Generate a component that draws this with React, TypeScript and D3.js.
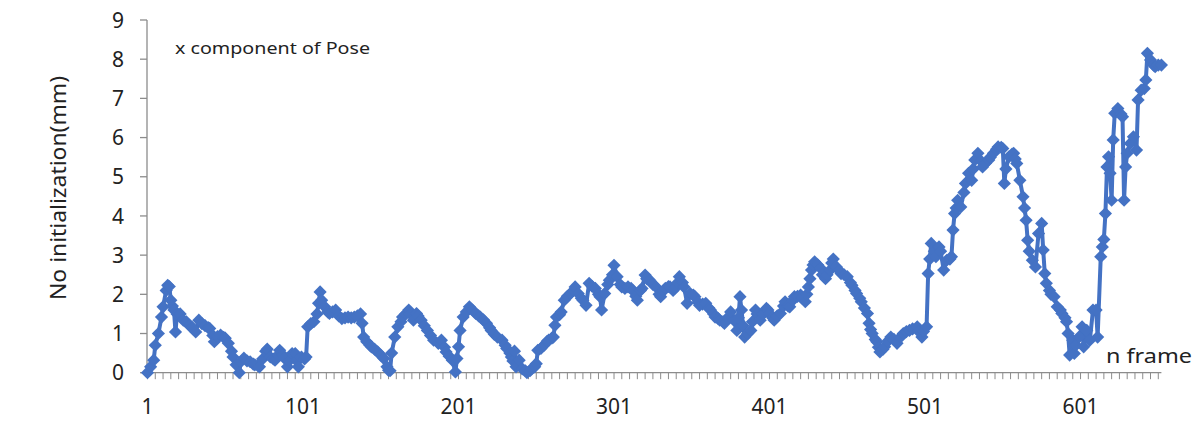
import React from "react";
import * as d3 from "d3";

const frames = [
  1, 3, 5, 6, 8, 10, 11, 13, 14, 15, 16, 17, 18, 19, 20, 22, 24, 26, 28, 30, 32, 34, 36, 38, 40, 41, 43, 44, 46, 48, 50, 51, 53, 55, 56, 58, 60, 61, 63, 65, 67, 69, 70, 72, 73, 75, 77,
  78, 80, 82, 83, 85, 86, 88, 89, 91, 92, 94, 96, 97, 98, 100, 102, 103, 104, 106, 108, 110, 111, 112, 113, 115, 117, 118, 120, 122, 124, 126, 128, 130, 132, 134, 136, 138, 139, 140, 142, 144, 145, 147, 149, 151, 153, 155, 156, 157,
  158, 160, 162, 164, 165, 167, 169, 170, 172, 174, 175, 177, 179, 181, 183, 185, 188, 190, 192, 193, 195, 197, 199, 200, 201, 202, 204, 206, 208, 210, 212, 214, 215, 217, 219, 221, 222, 224, 226, 229, 231, 232, 234, 235, 236, 237, 238,
  240, 242, 244, 245, 247, 248, 250, 251, 252, 254, 256, 258, 259, 261, 262, 263, 264, 266, 267, 269, 271, 273, 275, 276, 278, 280, 281, 283, 285, 287, 289, 291, 292, 293, 295, 297, 298, 300, 301, 303, 305, 306, 308, 310, 312, 313, 315, 316, 318,
  319, 321, 322, 324, 326, 328, 330, 331, 333, 334, 336, 337, 339, 340, 342, 343, 345, 346, 348, 350, 352, 353, 355, 356, 358, 360, 362, 363, 365, 366, 368, 369, 371, 372, 374, 376, 378, 380, 381, 382, 383, 384, 385, 387, 389, 390, 392, 393, 395, 397,
  399, 400, 401, 403, 404, 406, 408, 410, 411, 413, 414, 416, 417, 419, 421, 422, 424, 425, 426, 427, 428, 429, 430, 432, 434, 435, 437, 438, 440, 441, 442, 444, 446, 447, 449, 451, 453, 454, 456, 457, 459, 460, 462, 464, 465, 466, 467, 469, 470, 471, 472, 474, 475, 477,
  479, 481, 483, 485, 487, 489, 491, 493, 496, 497, 499, 500, 502, 503, 504, 505, 507, 508, 510, 511, 513, 515, 517, 518, 519, 520, 521, 522, 524, 526, 527, 529, 531, 532, 533, 535, 537, 538, 540, 542, 543, 545, 547, 548, 550, 551, 552, 553, 555, 557, 558, 559, 560, 562, 564,
  565, 566, 567, 568, 570, 572, 574, 576, 577, 578, 579, 581, 582, 584, 586, 588, 589, 591, 592, 593, 594, 596, 597, 598, 600, 602, 603, 605, 607, 609, 611, 612, 614, 615, 616, 617, 618, 619, 620, 621, 622, 623, 625, 627, 628, 629, 630, 631, 633, 635, 637, 638, 640, 642, 643, 644, 646, 648, 649, 651, 653,
];

const xPose = [
  0.0, 0.15, 0.32, 0.7, 1.0, 1.42, 1.68, 2.1, 2.23, 2.2, 1.85, 1.7, 1.6, 1.04, 1.5, 1.5, 1.34, 1.3, 1.2, 1.15, 1.04, 1.34, 1.25, 1.2, 1.15, 1.13, 0.95, 0.79, 0.92, 0.96, 0.9, 0.88, 0.75, 0.55, 0.4, 0.2, 0.0, 0.28, 0.37, 0.3, 0.28, 0.22, 0.2, 0.18, 0.15, 0.35, 0.55,
  0.6, 0.4, 0.35, 0.32, 0.45, 0.57, 0.45, 0.37, 0.15, 0.3, 0.49, 0.49, 0.3, 0.15, 0.4, 0.35, 0.4, 1.17, 1.25, 1.3, 1.5, 1.77, 2.06, 1.85, 1.68, 1.55, 1.51, 1.55, 1.6, 1.45, 1.38, 1.4, 1.42, 1.4, 1.42, 1.45, 1.5, 1.26, 0.91, 0.79, 0.7, 0.66, 0.6, 0.53, 0.45, 0.36, 0.15, 0.06, 0.05,
  0.5, 0.91, 1.17, 1.3, 1.42, 1.5, 1.6, 1.5, 1.34, 1.51, 1.45, 1.34, 1.2, 1.08, 0.95, 0.83, 0.75, 0.83, 0.65, 0.53, 0.42, 0.32, 0.02, 0.36, 0.66, 1.08, 1.42, 1.55, 1.68, 1.6, 1.51, 1.45, 1.42, 1.35, 1.26, 1.15, 1.08, 0.98, 0.91, 0.83, 0.7, 0.62, 0.5, 0.4, 0.3, 0.55, 0.15,
  0.32, 0.1, 0.05, 0.0, 0.05, 0.1, 0.15, 0.23, 0.57, 0.62, 0.7, 0.8, 0.83, 0.88, 0.91, 1.21, 1.42, 1.48, 1.55, 1.85, 1.95, 2.02, 2.1, 2.19, 2.02, 1.9, 1.85, 1.72, 2.28, 2.2, 2.15, 2.0, 1.94, 1.6, 2.02, 2.25, 2.36, 2.5, 2.74, 2.45, 2.25, 2.19, 2.15, 2.19, 2.15, 2.1, 1.95, 1.85, 2.1,
  2.15, 2.49, 2.4, 2.36, 2.25, 2.19, 2.0, 1.94, 2.1, 2.15, 2.2, 2.19, 2.1, 2.15, 2.3, 2.45, 2.3, 2.19, 1.77, 2.02, 1.98, 1.94, 1.8, 1.72, 1.75, 1.77, 1.65, 1.6, 1.5, 1.42, 1.38, 1.34, 1.3, 1.26, 1.4, 1.55, 1.34, 1.08, 1.4, 1.94, 1.6, 1.2, 0.91, 1.0, 1.08, 1.3, 1.6, 1.5, 1.34, 1.5,
  1.64, 1.6, 1.51, 1.4, 1.34, 1.45, 1.51, 1.7, 1.81, 1.7, 1.68, 1.85, 1.94, 1.95, 1.98, 1.9, 1.81, 2.0, 2.19, 2.4, 2.62, 2.75, 2.83, 2.75, 2.66, 2.5, 2.4, 2.5, 2.62, 2.8, 2.9, 2.7, 2.6, 2.53, 2.5, 2.45, 2.3, 2.23, 2.1, 2.02, 1.9, 1.81, 1.65, 1.51, 1.26, 1.1, 1.0, 0.85, 0.79, 0.65, 0.53, 0.6, 0.66, 0.8,
  0.91, 0.85, 0.75, 0.9, 1.0, 1.05, 1.08, 1.12, 1.17, 1.05, 0.91, 1.05, 1.17, 2.53, 2.9, 3.3, 3.1, 2.96, 3.21, 3.1, 2.62, 2.87, 2.9, 2.96, 3.64, 4.06, 4.2, 4.4, 4.23, 4.6, 4.83, 5.09, 4.91, 5.2, 5.43, 5.6, 5.4, 5.25, 5.35, 5.43, 5.5, 5.6, 5.7, 5.76, 5.75, 5.72, 4.83, 5.2, 5.51, 5.58, 5.6, 5.45, 5.34, 4.91, 4.49,
  4.2, 3.89, 3.38, 3.1, 2.87, 2.7, 3.55, 3.81, 3.13, 2.53, 2.28, 2.1, 2.0, 1.94, 1.68, 1.6, 1.51, 1.4, 1.3, 1.0, 0.45, 0.83, 0.49, 0.7, 0.91, 1.17, 0.66, 1.08, 0.83, 1.6, 1.6, 0.91, 2.96, 3.21, 3.4, 4.06, 5.25, 5.51, 5.09, 4.4, 5.94, 6.62, 6.74, 6.6, 6.53, 4.4, 5.25, 5.6, 5.85, 6.02, 5.68, 6.96, 7.21, 7.25, 7.47, 8.15, 7.98, 7.85, 7.81, 7.85, 7.85,
];

const yTicks = [0, 1, 2, 3, 4, 5, 6, 7, 8, 9];
const xLabelFrames = [1, 101, 201, 301, 401, 501, 601];
const nFrames = 653;

const seriesLabel = "x component of Pose";
const yTitle = "No initialization(mm)";
const xTitle = "n frame";

const W = 1196;
const H = 441;
const BLUE = "#4472C4";
const AXIS = "#8C8C8C";
const FONT = "'Noto Sans', 'Open Sans', sans-serif";

export default function App() {
  const x = d3.scaleLinear().domain([1, nFrames]).range([147.5, 1161.4]);
  const y = d3.scaleLinear().domain([0, 9]).range([372.7, 20]);

  const pts = frames.map((f, i) => [x(f), y(xPose[i])] as [number, number]);
  const line = d3.line<[number, number]>().x((d) => d[0]).y((d) => d[1]);
  const r = 6.6;
  const diamond = `M0,${-r}L${r},0L0,${r}L${-r},0Z`;
  const minorTicks = d3.range(1, nFrames + 1, 5);

  return (
    <svg
      width={W}
      height={H}
      style={{ position: "absolute", left: 0, top: 0, background: "#fff" }}
      fontFamily={FONT}
    >
      <rect width={W} height={H} fill="#fff" />
      {/* y axis */}
      <line x1={147} x2={147} y1={y(9)} y2={y(0)} stroke={AXIS} strokeWidth={1.3} />
      {yTicks.map((t) => (
        <g key={t}>
          <line x1={140} x2={147} y1={y(t)} y2={y(t)} stroke={AXIS} strokeWidth={1.3} />
          <text x={124} y={y(t)} dy="0.36em" textAnchor="end" fontSize={21} fill="#222">
            {t}
          </text>
        </g>
      ))}
      {/* x axis */}
      <line x1={145} x2={x(nFrames)} y1={y(0)} y2={y(0)} stroke={AXIS} strokeWidth={1.3} />
      {minorTicks.map((f) => (
        <line key={f} x1={x(f)} x2={x(f)} y1={y(0)} y2={y(0) + 6.5} stroke={AXIS} strokeWidth={1} />
      ))}
      {xLabelFrames.map((f) => (
        <text key={f} x={x(f)} y={414} textAnchor="middle" fontSize={21} fill="#222">
          {f}
        </text>
      ))}
      {/* axis titles */}
      <text
        transform="translate(66,188) rotate(-90)"
        textAnchor="middle"
        fontSize={21}
        fill="#222"
        textLength={224}
        lengthAdjust="spacingAndGlyphs"
      >
        {yTitle}
      </text>
      <text x={1106} y={363} fontSize={20} fill="#222" textLength={86} lengthAdjust="spacingAndGlyphs">
        {xTitle}
      </text>
      <text x={175} y={54} fontSize={17} fill="#222" textLength={195} lengthAdjust="spacingAndGlyphs">
        {seriesLabel}
      </text>
      {/* series */}
      <path d={line(pts) || ""} fill="none" stroke={BLUE} strokeWidth={4} strokeLinejoin="round" />
      {pts.map((p, i) => (
        <path key={i} d={diamond} transform={`translate(${p[0]},${p[1]})`} fill={BLUE} />
      ))}
    </svg>
  );
}
